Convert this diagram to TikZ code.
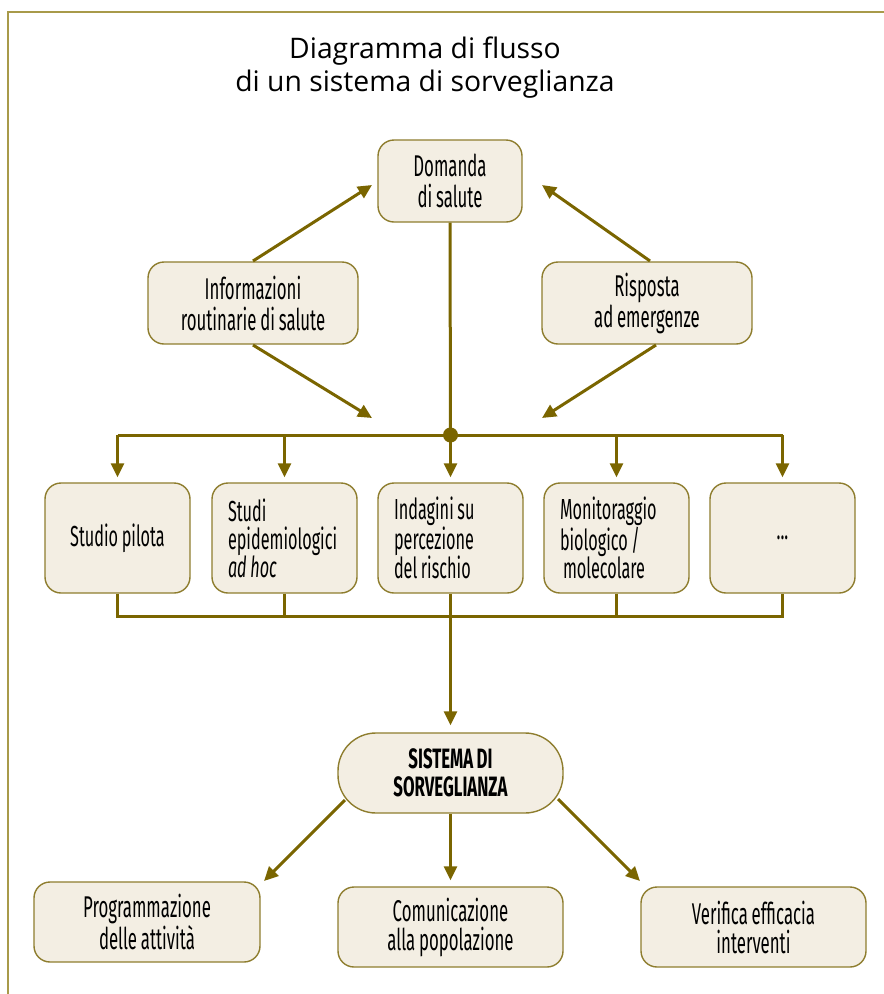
\documentclass[tikz,border=0pt]{standalone}
\usepackage{fontspec}
\setmainfont{Fira Sans}[FakeStretch=0.56, WordSpace=0.85]
\newfontfamily\sisfont{Fira Sans}[FakeStretch=0.6, WordSpace=0.85]
\newfontfamily\titlefont{Open Sans}
\usetikzlibrary{arrows.meta,calc}
\definecolor{lineol}{HTML}{7A6500}
\definecolor{boxdraw}{HTML}{8E7D2E}
\definecolor{boxfill}{HTML}{F3EEE3}
\definecolor{framecol}{HTML}{A89A4A}
\begin{document}
\begin{tikzpicture}[x=1pt,y=-1pt,
  box/.style={draw=boxdraw, fill=boxfill, line width=1.4pt, rounded corners=16pt, inner sep=0pt,
    font=\fontsize{30}{31}\selectfont, align=center},
  sbox/.style={box, minimum width=145pt, minimum height=110pt, font=\fontsize{29}{28}\selectfont},
  lbox/.style={sbox, text width=113pt, inner xsep=16pt, align=flush left},
  wbox/.style={box, minimum width=225pt, minimum height=80pt, font=\fontsize{30}{29}\selectfont},
  ln/.style={draw=lineol, line width=3pt},
  arr/.style={ln, -{Triangle[length=14pt,width=13pt]}}
]
\useasboundingbox (0,0) rectangle (884,994);
% frame
\draw[framecol, line width=1.5pt] (8,994) -- (8,12) -- (884,12);
% title
\node[font=\titlefont\fontsize{28.3}{33}\selectfont, align=center] (title) at (425,68)
  {Diagramma di flusso\\di un sistema di sorveglianza};
% top boxes
\node[box, minimum width=144pt, minimum height=82pt] (dom) at (450,181) {Domanda\\di salute};
\node[box, minimum width=210pt, minimum height=82pt] (info) at (253,303) {Informazioni\\routinarie di salute};
\node[box, minimum width=210pt, minimum height=82pt] (risp) at (647,303) {Risposta\\ad emergenze};
% row boxes
\node[sbox] (b1) at (117.5,538) {Studio pilota};
\node[lbox] (b2) at (284.5,538) {Studi\\epidemiologici\\\textit{ad hoc}};
\node[lbox] (b3) at (450.5,538) {Indagini su\\percezione\\del rischio};
\node[lbox] (b4) at (616.5,538) {Monitoraggio\\biologico /\\\hspace{3pt}molecolare};
\node[sbox] (b5) at (782.5,538) {...};
% sistema
\node[box, minimum width=225pt, minimum height=80pt, rounded corners=38pt,
  font=\sisfont\bfseries\fontsize{28}{28}\selectfont] (sis) at (450.5,773) {SISTEMA DI\\SORVEGLIANZA};
% bottom boxes
\node[wbox, minimum width=226pt] (p1) at (147,922) {Programmazione\\delle attività};
\node[wbox] (p2) at (450.5,927) {Comunicazione\\alla popolazione};
\node[wbox] (p3) at (753.5,927) {Verifica efficacia\\interventi};
% coordinates
\coordinate (iT) at (253,261);
\coordinate (iB) at (253,345);
\coordinate (rT) at (650,261);
\coordinate (rB) at (656,345);
\coordinate (tipIT) at (372,185);
\coordinate (tipIB) at (372,418);
\coordinate (tipRT) at (542,185);
\coordinate (tipRB) at (542,418);
\coordinate (lb) at (450.5,616);
\coordinate (sL) at (345,800);
\coordinate (sR) at (558,799);
\coordinate (tipL) at (264,881);
\coordinate (tipR) at (640,881);
% dot
\node[circle, fill=lineol, inner sep=0pt, minimum size=15pt] (dot) at (450.5,435) {};
% connectors top
\draw[arr] (iT) -- (tipIT);
\draw[arr] (iB) -- (tipIB);
\draw[arr] (rT) -- (tipRT);
\draw[arr] (rB) -- (tipRB);
\draw[ln] (dom.south) -- (dot.center);
\draw[ln] (b1.north |- dot) -- (b5.north |- dot);
\foreach \b in {b1,b2,b3,b4,b5}{
  \draw[arr, shorten >=5pt] (\b.north |- dot) -- (\b.north);
}
% bottom bus
\draw[ln] (b1.south) |- (lb) -| (b5.south);
\draw[ln] (b2.south) -- (b2.south |- lb);
\draw[ln] (b4.south) -- (b4.south |- lb);
\draw[arr, shorten >=7pt] (b3.south) -- (sis.north);
% outputs
\draw[arr] (sL) -- (tipL);
\draw[arr, shorten >=6pt] (sis.south) -- (p2.north);
\draw[arr] (sR) -- (tipR);
\end{tikzpicture}
\end{document}
